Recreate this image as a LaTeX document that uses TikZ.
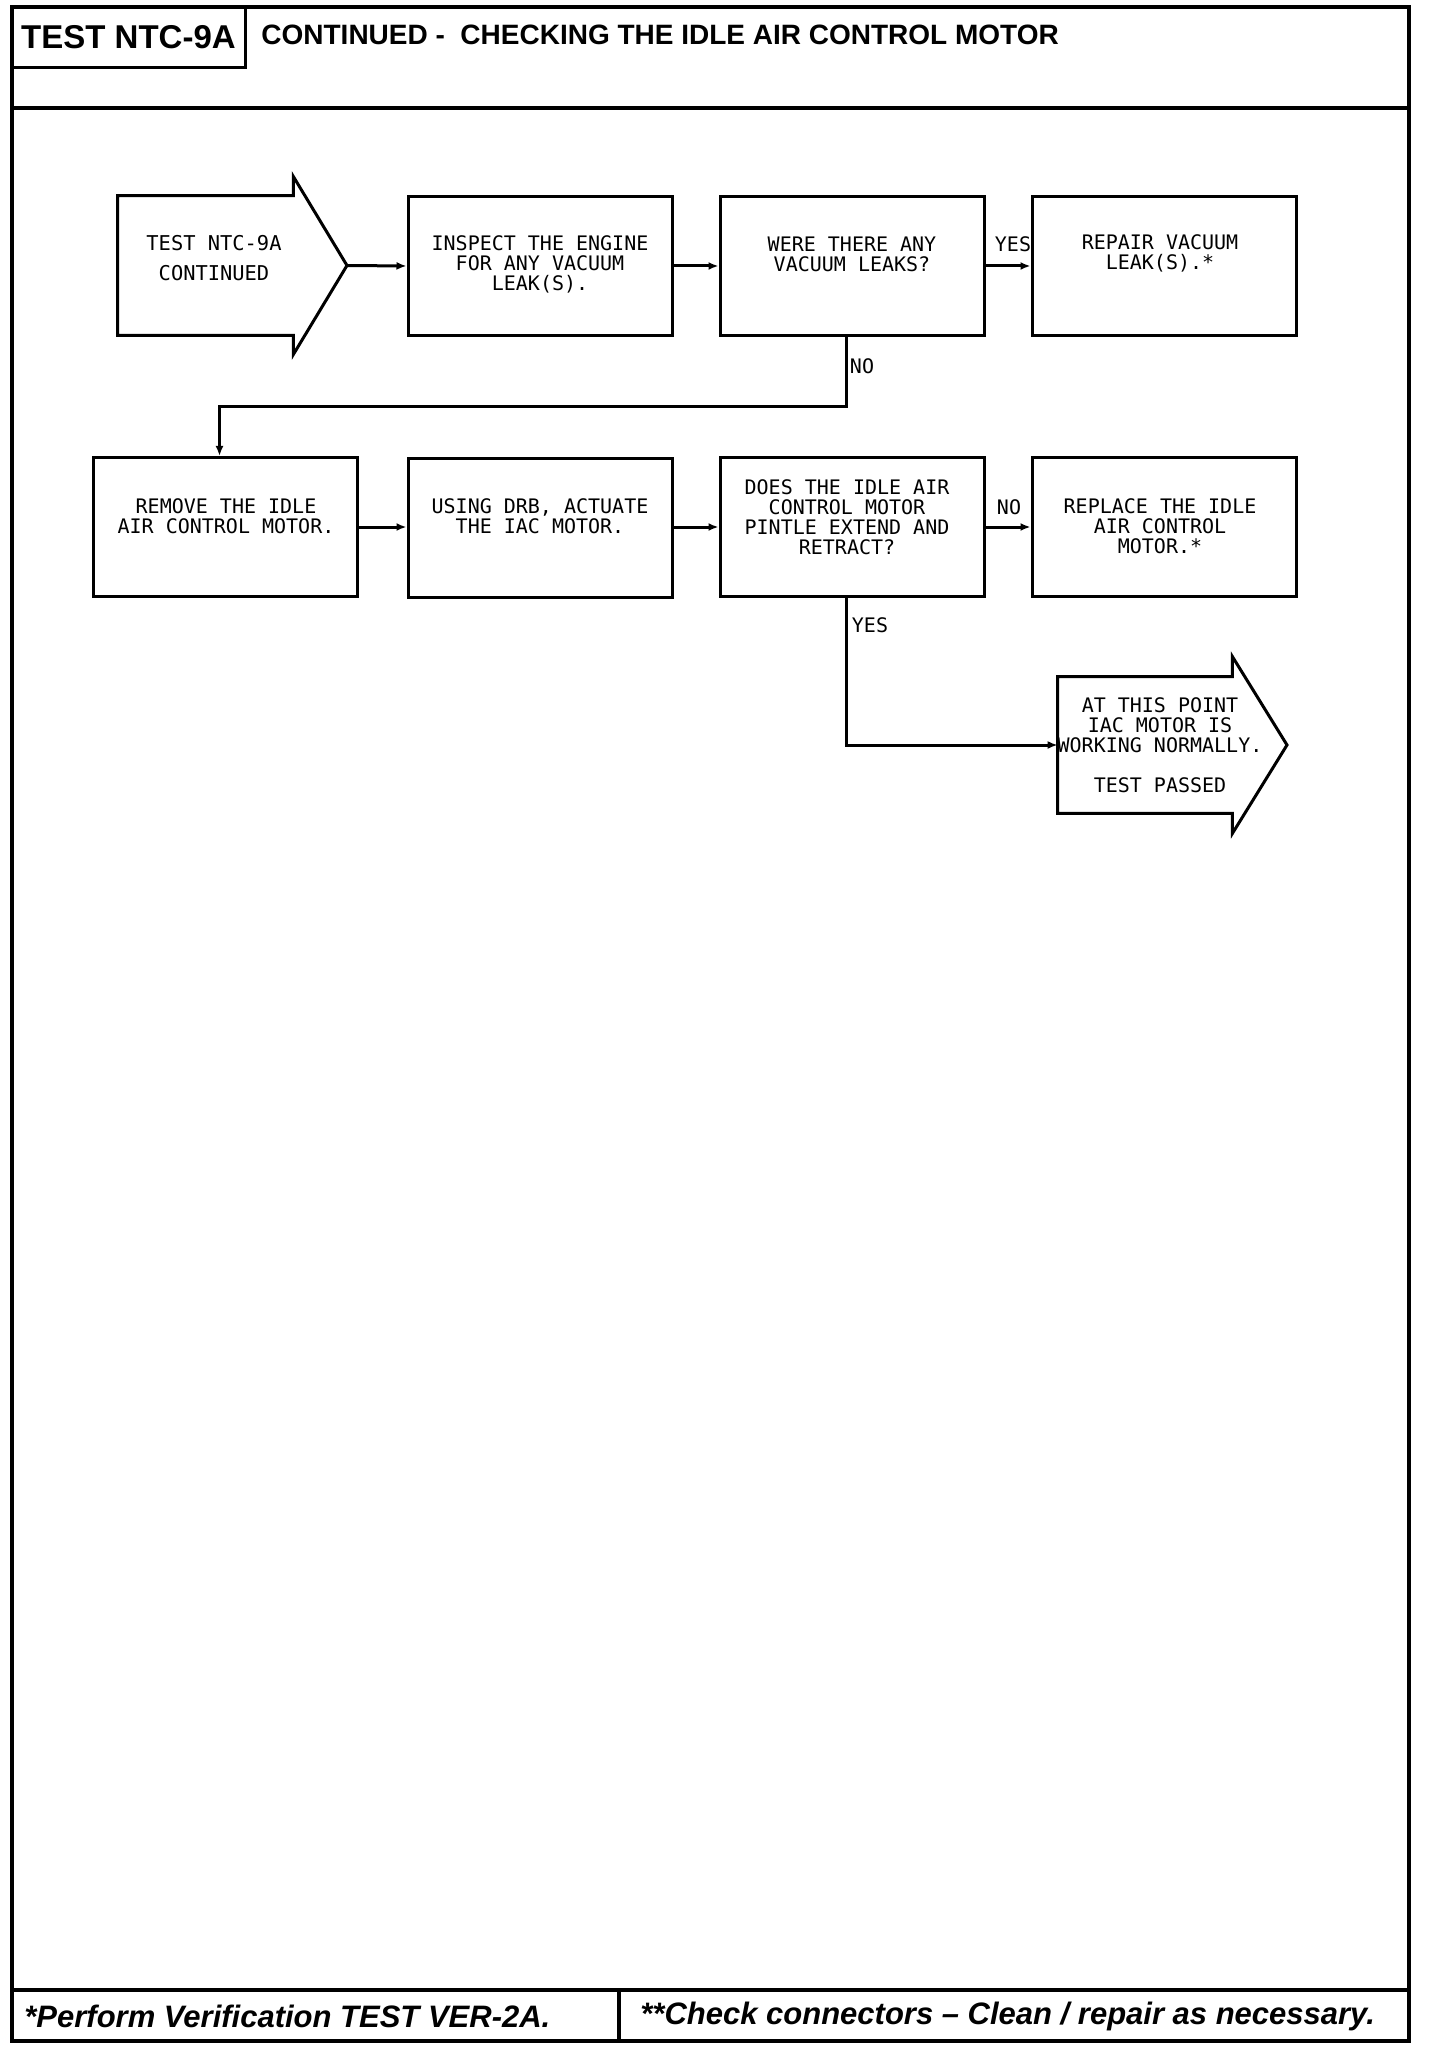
\documentclass[tikz,border=0pt]{standalone}
\usepackage{fontspec}
\setmainfont{Liberation Sans}
\newfontfamily\plotfont{DejaVu Sans Mono}
\usetikzlibrary{arrows.meta}
\begin{document}
\begin{tikzpicture}[x=0.5pt,y=-0.5pt,
  frame/.style={line width=1.6pt},
  boxnode/.style={draw, line width=1.5pt, minimum width=132pt, minimum height=69.5pt, inner sep=0pt},
  shapenode/.style={inner sep=0pt},
  txt/.style={font=\plotfont\fontsize{10}{10}\selectfont, align=center, inner sep=0pt},
  lbl/.style={font=\plotfont\fontsize{10}{10}\selectfont, inner sep=0pt},
  conn/.style={line width=1.5pt, -{Latex[length=5pt,width=4pt]}},
  outline/.style={line width=1.5pt, line join=miter}]
\useasboundingbox (0,0) rectangle (1440,2048);
% page frame
\draw[frame] (12,7) rectangle (1409,2041);
\draw[frame] (12,108) -- (1409,108);
\draw[frame] (12,1990) -- (1409,1990);
\draw[frame] (619,1990) -- (619,2041);
% header
\node[draw, line width=1.5pt, minimum width=116.5pt, minimum height=30.5pt, inner sep=0pt,
      font=\bfseries\fontsize{16.5}{16.5}\selectfont] (hdr) at (128.5,37.5) {TEST NTC-9A};
\node[anchor=west, inner sep=0pt, font=\bfseries\fontsize{14}{14}\selectfont] (title) at (261,35)
  {CONTINUED -\ \ CHECKING THE IDLE AIR CONTROL MOTOR};
% footer
\node[anchor=west, inner sep=0pt, font=\bfseries\itshape\fontsize{15.5}{15.5}\selectfont] (foot1) at (24,2016)
  {*Perform Verification TEST VER-2A.};
\node[anchor=west, inner sep=0pt, font=\bfseries\itshape\fontsize{15.5}{15.5}\selectfont] (foot2) at (640,2016)
  {**Check connectors -- Clean / repair as necessary.};
% start arrow
\node[shapenode, minimum width=87.5pt, minimum height=69.5pt] (startar) at (205.5,265.5) {};
\draw[outline] (startar.north west) -- (startar.north east) -- ++(0,-19) -- (347,265.5)
  -- ([yshift=-9.5pt]startar.south east) -- (startar.south east) -- (startar.south west) -- cycle;
\coordinate (starttip) at (347,265.5);
\node[txt, font=\plotfont\fontsize{10.2}{15}\selectfont] (starttxt) at (214,258)
  {TEST NTC-9A\\CONTINUED};
% row 1
\node[boxnode] (b1) at (540,266) {};
\node[boxnode] (b2) at (852,266) {};
\node[boxnode] (b3) at (1164,266) {};
\node[txt] (t1) at (540,264) {INSPECT THE ENGINE\\FOR ANY VACUUM\\LEAK(S).};
\node[txt] (t2) at (852,254) {WERE THERE ANY\\VACUUM LEAKS?};
\node[txt] (t3) at (1160,253) {REPAIR VACUUM\\LEAK(S).*};
% row 2
\node[boxnode] (b4) at (225.5,527) {};
\node[boxnode] (b5) at (540,528) {};
\node[boxnode] (b6) at (852,527) {};
\node[boxnode] (b7) at (1164,527) {};
\node[txt] (t4) at (226,516) {REMOVE THE IDLE\\AIR CONTROL MOTOR.};
\node[txt] (t5) at (540,516) {USING DRB, ACTUATE\\THE IAC MOTOR.};
\node[txt] (t6) at (847,517) {DOES THE IDLE AIR\\CONTROL MOTOR\\PINTLE EXTEND AND\\RETRACT?};
\node[txt] (t7) at (1160,526) {REPLACE THE IDLE\\AIR CONTROL\\MOTOR.*};
% end arrow
\node[shapenode, minimum width=87pt, minimum height=68pt] (endar) at (1145,745) {};
\draw[outline] (endar.north west) -- (endar.north east) -- ++(0,-20) -- (1287,745)
  -- ([yshift=-10pt]endar.south east) -- (endar.south east) -- (endar.south west) -- cycle;
\node[txt] (tend) at (1160,745) {AT THIS POINT\\IAC MOTOR IS\\WORKING NORMALLY.\\[10pt]TEST PASSED};
% connectors
\draw[conn] (starttip) -- (b1.west);
\draw[conn] (b1.east) -- (b2.west);
\draw[conn] (b2.east) -- (b3.west);
\draw[conn] ([xshift=-3pt]b2.south) -- ++(0,70) -| ([xshift=-3pt]b4.north);
\draw[conn] (b4.east) -- (b5.west |- b4.east);
\draw[conn] (b5.east |- b6.west) -- (b6.west);
\draw[conn] (b6.east) -- (b7.west);
\draw[conn] ([xshift=-3pt]b6.south) |- (endar.west);
% labels
\node[lbl] (yes1) at (1013,244) {YES};
\node[lbl] (no1) at (862,366) {NO};
\node[lbl] (no2) at (1009,507) {NO};
\node[lbl] (yes2) at (870,625) {YES};
\end{tikzpicture}
\end{document}
